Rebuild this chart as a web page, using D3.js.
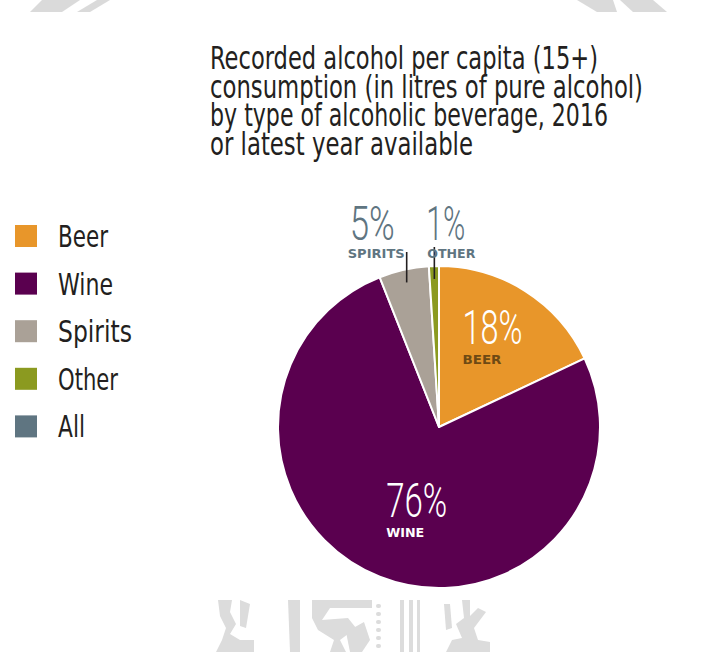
<!DOCTYPE html>
<html>
<head>
<meta charset="utf-8">
<script src="https://cdn.jsdelivr.net/npm/d3@7/dist/d3.min.js"></script>
<style>
  html, body { margin: 0; padding: 0; background: #fff; }
  svg { display: block; }
</style>
</head>
<body>
<svg id="chart" width="701" height="652"></svg>
<script>
// Recorded alcohol per capita by beverage type (share of total, %)
const categories = ["Beer", "Wine", "Spirits", "Other"];
const shares = [18, 76, 5, 1];
const legendLabels = ["Beer", "Wine", "Spirits", "Other", "All"];
const titleLines = [
  "Recorded alcohol per capita (15+)",
  "consumption (in litres of pure alcohol)",
  "by type of alcoholic beverage, 2016",
  "or latest year available"
];

const W = 701, H = 652;
const svg = d3.select("#chart");
const condensed = "'DejaVu Sans Condensed', 'Liberation Sans Narrow', 'Arial Narrow', sans-serif";
const light = "Roboto, 'Open Sans', sans-serif";

const color = d3.scaleOrdinal()
  .domain(legendLabels)
  .range(["#e8962a", "#5a004f", "#aaa197", "#8b9a20", "#5f7581"]);

// faint background emblem fragments
const wm = svg.append("g").attr("fill", "#dadada");
[
  [[30,12],[62,12],[80,0],[42,0]],
  [[77,12],[90,12],[110,0],[97,0]],
  [[597,12],[617,12],[613,0],[577,0]],
  [[633,12],[667,12],[653,0],[620,0]]
].forEach(p => wm.append("polygon").attr("points", p.map(q => q.join(",")).join(" ")));
const wm2 = svg.append("g").attr("fill", "#dcdcdc");
// left glyph
wm2.append("path").attr("d", "M218,600 L232,600 L230,612 L236,624 L230,634 L240,640 L254,640 L254,652 L216,652 L222,640 L226,628 L220,616 Z");
wm2.append("path").attr("d", "M240,600 L250,604 L246,628 L240,626 Z");
// central glyph
wm2.append("path").attr("d", "M288,600 L300,600 L300,652 L290,652 Z");
wm2.append("path").attr("d", "M312,600 L372,600 L372,608 L330,608 L322,620 L348,618 L356,628 L340,640 L346,652 L330,652 L334,640 L318,630 L312,618 Z");
wm2.append("path").attr("d", "M346,632 L364,622 L370,640 L362,652 L350,652 Z");
d3.range(6).forEach(i => wm2.append("rect").attr("x", 376).attr("y", 604 + i * 8).attr("width", 5).attr("height", 4).attr("rx", 2));
// vertical strokes
wm2.append("rect").attr("x", 400).attr("y", 600).attr("width", 4).attr("height", 52);
wm2.append("rect").attr("x", 409).attr("y", 600).attr("width", 4).attr("height", 52);
wm2.append("rect").attr("x", 417).attr("y", 600).attr("width", 3).attr("height", 52);
// right glyph
wm2.append("path").attr("d", "M444,604 L450,604 L452,628 L446,630 Z");
wm2.append("path").attr("d", "M462,600 L470,600 L470,616 L478,608 L486,612 L474,628 L478,640 L490,642 L490,652 L446,652 L452,640 L462,638 L456,624 L464,618 Z");

// title
const title = svg.append("g")
  .attr("font-family", condensed)
  .attr("font-size", 32)
  .attr("fill", "#231f20");
const titleWidths = [388, 433, 398, 263];
titleLines.forEach((t, i) => {
  title.append("text")
    .attr("x", 210)
    .attr("y", 69 + i * 28.5)
    .attr("textLength", titleWidths[i])
    .attr("lengthAdjust", "spacingAndGlyphs")
    .text(t);
});

// legend
const legend = svg.append("g").attr("font-family", condensed).attr("font-size", 30).attr("fill", "#231f20");
const legendWidths = [50, 55, 74, 60, 27];
legendLabels.forEach((d, i) => {
  const base = 247 + i * 47.6;
  legend.append("rect")
    .attr("x", 15).attr("y", base - 22)
    .attr("width", 22).attr("height", 22)
    .attr("fill", color(d));
  legend.append("text")
    .attr("x", 58).attr("y", base)
    .attr("textLength", legendWidths[i])
    .attr("lengthAdjust", "spacingAndGlyphs")
    .text(d);
});

// pie
const cx = 439, cy = 427, r = 161;
const pie = d3.pie().sort(null).value(d => d.value).startAngle(0).endAngle(2 * Math.PI);
const data = categories.map((c, i) => ({ name: c, value: shares[i] }));
const arcs = pie(data);
const arc = d3.arc().innerRadius(0).outerRadius(r);

const g = svg.append("g").attr("transform", `translate(${cx},${cy})`);
g.selectAll("path.slice")
  .data(arcs)
  .join("path")
  .attr("class", "slice")
  .attr("d", arc)
  .attr("fill", d => color(d.data.name))
  .attr("stroke", "#fff")
  .attr("stroke-width", 2)
  .attr("stroke-linejoin", "round");

const pct = v => v + "%";
const mid = d => (d.startAngle + d.endAngle) / 2;
const pointAt = (a, rad) => [rad * Math.sin(a), -rad * Math.cos(a)];

// inner labels (Beer, Wine)
const inner = {
  Beer: { rad: 0.62, bigW: 60, small: "#6e4a14", big: "#ffffff", smallW: 39 },
  Wine: { rad: 0.52, bigW: 61, small: "#ffffff", big: "#ffffff", smallW: 38 }
};
arcs.filter(d => inner[d.data.name]).forEach(d => {
  const o = inner[d.data.name];
  const [px, py] = pointAt(mid(d), r * o.rad);
  const lx = d.data.name === "Beer" ? px - 30 : px - 22;
  const by = d.data.name === "Beer" ? py + 1 : py + 12;
  g.append("text")
    .attr("x", lx).attr("y", by)
    .attr("font-family", light).attr("font-weight", 300)
    .attr("font-size", 48).attr("fill", o.big)
    .attr("textLength", o.bigW).attr("lengthAdjust", "spacingAndGlyphs")
    .text(pct(d.data.value));
  g.append("text")
    .attr("x", lx).attr("y", by + 20)
    .attr("font-family", condensed).attr("font-weight", 700)
    .attr("font-size", 13).attr("fill", o.small)
    .attr("textLength", o.smallW).attr("lengthAdjust", "spacingAndGlyphs")
    .text(d.data.name.toUpperCase());
});

// outer labels with leader lines (Spirits, Other)
const outer = {
  Spirits: { bigW: 45, smallW: 57, bigOff: -57, smallOff: -59, top: 252 },
  Other:   { bigW: 39, smallW: 48, bigOff: -8, smallOff: -7, top: 247 }
};
const labelColor = "#5f7581";
arcs.filter(d => outer[d.data.name]).forEach(d => {
  const o = outer[d.data.name];
  const a = mid(d);
  const [px, py] = pointAt(a, r * 0.92);
  g.append("line")
    .attr("x1", px).attr("x2", px)
    .attr("y1", py).attr("y2", o.top - cy)
    .attr("stroke", "#231f20").attr("stroke-width", 1.6);
  g.append("text")
    .attr("x", px + o.bigOff).attr("y", 240 - cy)
    .attr("font-family", light).attr("font-weight", 300)
    .attr("font-size", 48).attr("fill", labelColor)
    .attr("textLength", o.bigW).attr("lengthAdjust", "spacingAndGlyphs")
    .text(pct(d.data.value));
  g.append("text")
    .attr("x", px + o.smallOff).attr("y", 258 - cy)
    .attr("font-family", condensed).attr("font-weight", 700)
    .attr("font-size", 13).attr("fill", labelColor)
    .attr("textLength", o.smallW).attr("lengthAdjust", "spacingAndGlyphs")
    .text(d.data.name.toUpperCase());
});
</script>
</body>
</html>
